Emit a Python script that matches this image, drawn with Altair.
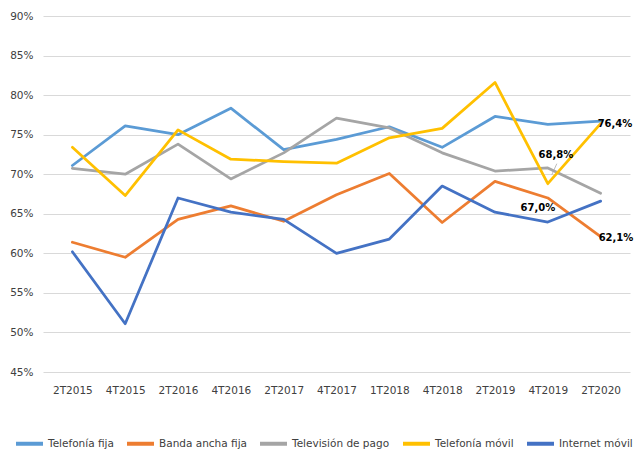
import altair as alt
import pandas as pd

periods = ["2T2015", "4T2015", "2T2016", "4T2016", "2T2017", "4T2017",
           "1T2018", "4T2018", "2T2019", "4T2019", "2T2020"]
series = ["Telefonía fija", "Banda ancha fija", "Televisión de pago",
          "Telefonía móvil", "Internet móvil"]
colors = ["#5B9BD5", "#ED7D31", "#A5A5A5", "#FFC000", "#4472C4"]

telefonia_fija = [71.1, 76.1, 75.0, 78.35, 73.1, 74.4, 76.0, 73.4, 77.3, 76.3, 76.7]
banda_ancha_fija = [61.4, 59.5, 64.3, 66.0, 64.05, 67.4, 70.1, 63.9, 69.1, 67.0, 62.1]
television_pago = [70.75, 70.0, 73.8, 69.4, 72.7, 77.1, 75.85, 72.7, 70.4, 70.8, 67.6]
telefonia_movil = [73.4, 67.3, 75.6, 71.9, 71.6, 71.4, 74.6, 75.8, 81.6, 68.8, 76.4]
internet_movil = [60.2, 51.1, 67.0, 65.2, 64.3, 60.0, 61.8, 68.5, 65.2, 63.95, 66.6]

label_series = ["Telefonía móvil", "Telefonía móvil", "Banda ancha fija", "Banda ancha fija"]
label_periods = ["2T2020", "4T2019", "4T2019", "2T2020"]
label_texts = ["76,4%", "68,8%", "67,0%", "62,1%"]

y_ticks = [45, 50, 55, 60, 65, 70, 75, 80, 85, 90]

rows = []
for s, vals in zip(series, [telefonia_fija, banda_ancha_fija, television_pago,
                            telefonia_movil, internet_movil]):
    for p, v in zip(periods, vals):
        rows.append({"serie": s, "periodo": p, "valor": v})
df = pd.DataFrame(rows)

lab = pd.DataFrame({"serie": label_series, "periodo": label_periods, "texto": label_texts})
lab = lab.merge(df, on=["serie", "periodo"], how="left")
lab["idx"] = range(len(lab))

FONT = "DejaVu Sans"
TXT = "#404040"

x_scale = alt.Scale(type="point", padding=0.556)
y_scale = alt.Scale(domain=[45, 90], nice=False, zero=False)

x_axis = alt.Axis(title=None, domain=False, ticks=False, grid=False,
                  labelAngle=0, labelPadding=13, labelFontSize=10.5,
                  labelColor=TXT, labelFont=FONT, labelOverlap=False)
y_axis = alt.Axis(title=None, domain=False, ticks=False, values=y_ticks,
                  labelExpr="datum.value + '%'", gridColor="#D9D9D9",
                  gridWidth=1, labelPadding=10, labelFontSize=10.5,
                  labelColor=TXT, labelFont=FONT, labelOverlap=False)


def xe():
    return alt.X("periodo:N", sort=periods, scale=x_scale, axis=x_axis)


def ye():
    return alt.Y("valor:Q", scale=y_scale, axis=y_axis)


lines = alt.Chart(df).mark_line(strokeWidth=2.75, strokeCap="round", strokeJoin="round").encode(
    x=xe(), y=ye(),
    color=alt.Color("serie:N", sort=series,
                    scale=alt.Scale(domain=series, range=colors),
                    legend=alt.Legend(title=None, orient="none", direction="horizontal",
                                      legendX=-29, legendY=412,
                                      symbolType="stroke", symbolSize=729,
                                      symbolStrokeWidth=4, labelOffset=3,
                                      columnPadding=5, labelFontSize=10.5,
                                      labelColor=TXT, labelFont=FONT)),
)


def text_layer(i, align, dx, dy):
    return alt.Chart(lab).transform_filter(alt.datum.idx == i).mark_text(
        align=align, baseline="middle", dx=dx, dy=dy, fontWeight="bold",
        fontSize=10, font=FONT, color="#000000"
    ).encode(x=xe(), y=ye(), text="texto:N")


leader = alt.Chart(lab).transform_filter(alt.datum.idx == 1).mark_rule(
    color="#A6A6A6", strokeWidth=0.75, xOffset=9, yOffset=-20, x2Offset=4, y2Offset=-9
).encode(x=xe(), y=ye(), x2="periodo:N", y2="valor:Q")

chart = alt.layer(
    lines, leader,
    text_layer(0, "left", -3, 0),
    text_layer(1, "center", 8, -29),
    text_layer(2, "center", -10, 10),
    text_layer(3, "left", -2, 1.5),
).properties(
    width=587, height=356,
    autosize=alt.AutoSizeParams(type="none"),
    padding={"left": 35, "top": 8, "right": 4, "bottom": 78},
).configure_view(stroke=None)

chart.save("out.html", embed_options={"renderer": "svg", "actions": False})
